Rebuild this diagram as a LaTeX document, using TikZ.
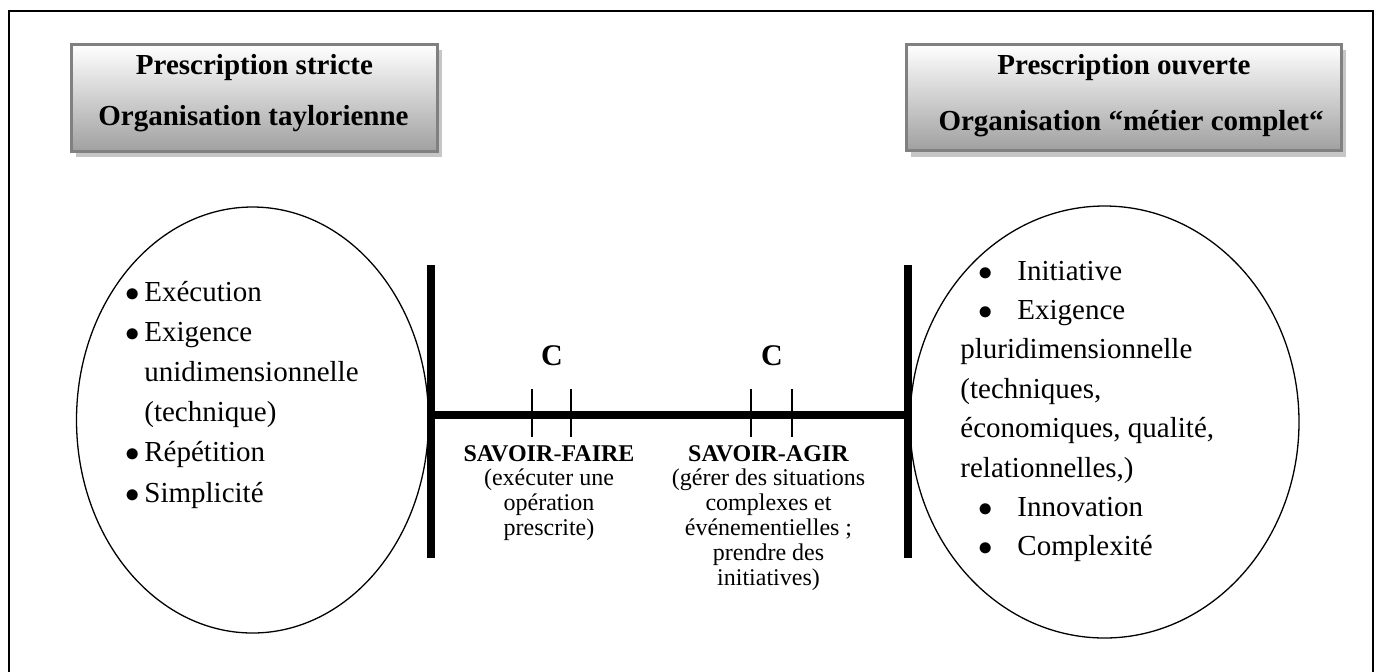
\documentclass[tikz,border=0pt]{standalone}
\usepackage{fontspec}
\setmainfont{Liberation Serif}
\usetikzlibrary{shapes.geometric}

\definecolor{boxedge}{HTML}{808080}
\definecolor{boxbottom}{HTML}{A0A0A0}
\definecolor{shadowgray}{HTML}{C6C6C6}

\newcommand{\listfont}{\fontsize{14.5}{20.1}\selectfont}
\newcommand{\midfont}{\fontsize{12}{12.4}\selectfont}
\newcommand{\bul}[1]{\makebox[#1][l]{$\bullet$}}

\begin{document}
\begin{tikzpicture}[x=0.5pt,y=-0.5pt,
  headbox/.style={draw=boxedge, line width=1.5pt, rectangle, inner sep=0pt,
    top color=white, bottom color=boxbottom},
  headtext/.style={font=\fontsize{14.5}{17}\selectfont\bfseries, inner sep=0pt, anchor=base},
  oval/.style={draw, ellipse, line width=0.65pt, inner sep=0pt},
  bar/.style={line width=4pt},
  tick/.style={line width=0.9pt},
  listtext/.style={inner sep=0pt, anchor=base west, font=\listfont},
  midtext/.style={inner sep=0pt, anchor=base, font=\midfont},
  cmark/.style={inner sep=0pt, anchor=base, font=\fontsize{15}{17}\selectfont\bfseries}]

\useasboundingbox (0,0) rectangle (1380,671);

% outer frame (open at the bottom of the page)
\draw[line width=1pt] (8.5,675) -- (8.5,10.5) -- (1372.5,10.5) -- (1372.5,675);

% header boxes with their offset shadows
\fill[shadowgray] (75.5,49.5) rectangle (441.5,157);
\fill[shadowgray] (910.5,49.5) rectangle (1346,156.5);
\node[headbox, minimum width=183pt, minimum height=53.5pt] (hleft) at (254.5,98) {};
\node[headbox, minimum width=217.5pt, minimum height=53pt] (hright) at (1124,97.5) {};

\node[headtext] (hl1) at (254.5,74) {Prescription stricte};
\node[headtext] (hl2) at (253.5,125) {Organisation taylorienne};
\node[headtext] (hr1) at (1124,74) {Prescription ouverte};
\node[headtext] (hr2) at (1131,130) {Organisation “métier complet“};

% the two ovals
\node[oval, minimum width=176pt, minimum height=213pt] (eleft) at (252.5,420) {};
\node[oval, minimum width=194.5pt, minimum height=216pt] (eright) at (1104.5,422) {};

% left list
\node[listtext] (lone) at (125,301) {%
  \begin{tabular}[t]{@{}l@{}}
  \bul{9.5pt}Exécution\\
  \bul{9.5pt}Exigence\\
  \hspace{9.5pt}unidimensionnelle\\
  \hspace{9.5pt}(technique)\\
  \bul{9.5pt}Répétition\\
  \bul{9.5pt}Simplicité
  \end{tabular}};

% right list
\node[listtext] (rone) at (960,280) {%
  \fontsize{14.5}{19.7}\selectfont
  \begin{tabular}[t]{@{}l@{}}
  \hspace{8.9pt}\bul{19.6pt}Initiative\\
  \hspace{8.9pt}\bul{19.6pt}Exigence\\
  pluridimensionnelle\\
  (techniques,\\
  économiques, qualité,\\
  relationnelles,)\\
  \hspace{8.9pt}\bul{19.6pt}Innovation\\
  \hspace{8.9pt}\bul{19.6pt}Complexité
  \end{tabular}};

% axis: two vertical bars joined by a horizontal line
\coordinate (lt) at (431,265);
\coordinate (lb) at (431,558);
\coordinate (rt) at (908,265);
\coordinate (rb) at (908,558);
\coordinate (lm) at (431,415);
\coordinate (rm) at (908,415);
\draw[bar] (lt) -- (lb);
\draw[bar] (rt) -- (rb);
\draw[bar] (lm) -- (rm);

% tick marks
\coordinate (t1a) at (532,389); \coordinate (t1b) at (532,437);
\coordinate (t2a) at (571,389); \coordinate (t2b) at (571,437);
\coordinate (t3a) at (751,389); \coordinate (t3b) at (751,437);
\coordinate (t4a) at (792,389); \coordinate (t4b) at (792,437);
\draw[tick] (t1a) -- (t1b);
\draw[tick] (t2a) -- (t2b);
\draw[tick] (t3a) -- (t3b);
\draw[tick] (t4a) -- (t4b);

\node[cmark] (c1) at (552,365) {C};
\node[cmark] (c2) at (772,365) {C};

% labels under the axis
\node[midtext] (sf) at (549,461) {%
  \begin{tabular}[t]{@{}c@{}}
  \textbf{SAVOIR}-\textbf{FAIRE}\\
  (exécuter une\\
  opération\\
  prescrite)
  \end{tabular}};
\node[midtext] (sa) at (768.5,461) {%
  \begin{tabular}[t]{@{}c@{}}
  \textbf{SAVOIR-AGIR}\\
  (gérer des situations\\
  complexes et\\
  événementielles ;\\
  prendre des\\
  initiatives)
  \end{tabular}};

\end{tikzpicture}
\end{document}
